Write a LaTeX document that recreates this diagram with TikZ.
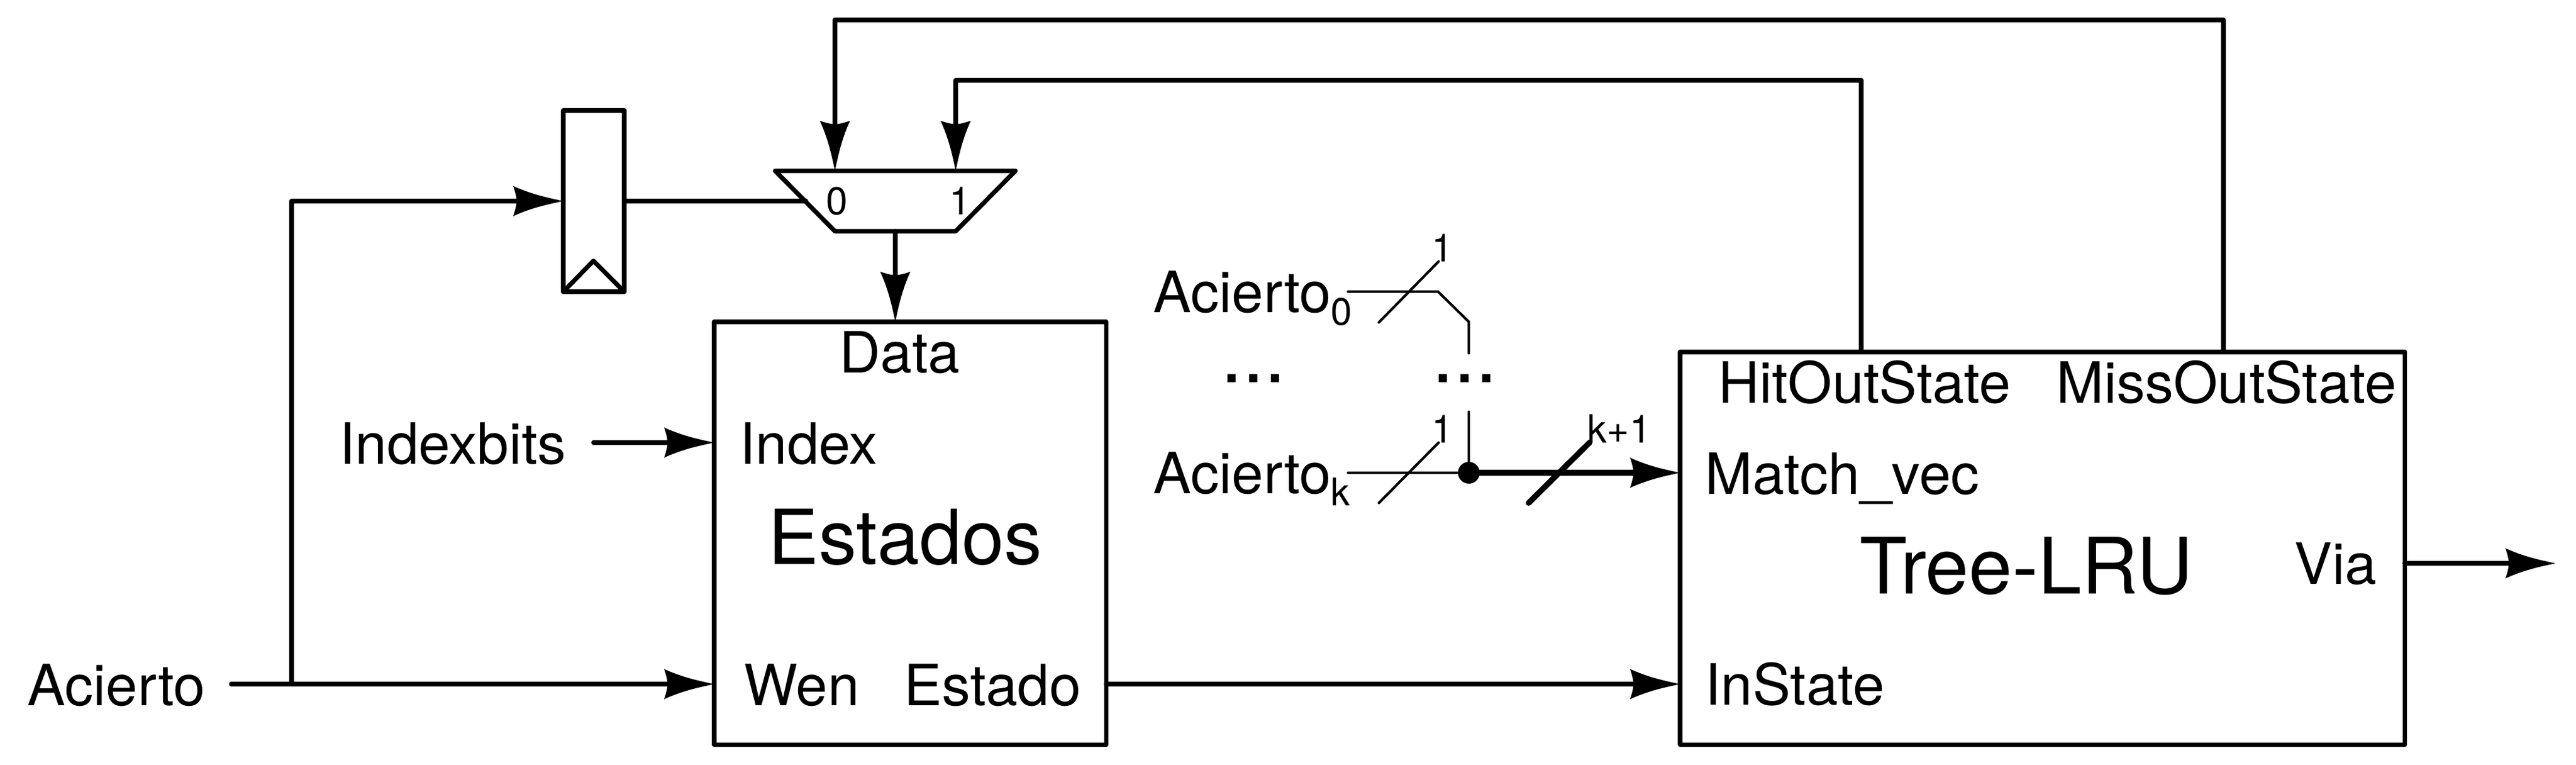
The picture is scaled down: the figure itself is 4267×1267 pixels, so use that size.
\documentclass[tikz,border=0pt]{standalone}
\usepackage{fontspec}
\setmainfont{TeX Gyre Heros}
\pgfarrowsdeclare{xtip}{xtip}{\pgfarrowsleftextend{-8.6pt}\pgfarrowsrightextend{15pt}}{%
  \pgfpathmoveto{\pgfpoint{15pt}{0pt}}%
  \pgfpathcurveto{\pgfpoint{7pt}{1.7pt}}{\pgfpoint{0pt}{3.2pt}}{\pgfpoint{-8.6pt}{7.1pt}}%
  \pgfpathcurveto{\pgfpoint{-7.4pt}{3.6pt}}{\pgfpoint{-7pt}{1.5pt}}{\pgfpoint{-7pt}{0pt}}%
  \pgfpathcurveto{\pgfpoint{-7pt}{-1.5pt}}{\pgfpoint{-7.4pt}{-3.6pt}}{\pgfpoint{-8.6pt}{-7.1pt}}%
  \pgfpathcurveto{\pgfpoint{0pt}{-3.2pt}}{\pgfpoint{7pt}{-1.7pt}}{\pgfpoint{15pt}{0pt}}%
  \pgfpathclose\pgfusepathqfill}
\newcommand{\subtxt}[1]{\raisebox{-5.7pt}{\fontsize{18pt}{20pt}\selectfont #1}}
\tikzset{
  wire/.style={line width=2.1pt,line join=round,line cap=round},
  thin wire/.style={line width=1.2pt,line join=round,line cap=round},
  bus wire/.style={line width=2.7pt,line join=round,line cap=round},
  arrowed/.style={wire,-xtip},
  block/.style={draw,line width=2.1pt,line join=round,inner sep=0pt,outer sep=0pt,anchor=north west,fill=none},
  lab/.style={inner sep=0pt,anchor=base west,font=\fontsize{26.8pt}{30pt}\selectfont},
  labsmall/.style={inner sep=0pt,anchor=base west,font=\fontsize{18.3pt}{20pt}\selectfont},
  labbig/.style={inner sep=0pt,anchor=base west,font=\fontsize{36.7pt}{40pt}\selectfont},
}
\begin{document}
\begin{tikzpicture}[x=0.01cm,y=-0.01cm]
\useasboundingbox (0,0) rectangle (4267,1267);
% blocks
\node[block,minimum width=6.49cm,minimum height=7cm] (est) at (1183,533) {};
\node[block,minimum width=12cm,minimum height=6.5cm] (lru) at (2783,583) {};
\node[block,minimum width=1.01cm,minimum height=3cm] (reg) at (933,183) {};
\draw[wire] (reg.south west) -- (983,432) -- (reg.south east);
\draw[wire] (1284,283) -- (1682,283) -- (1583,383) -- (1383,383) -- cycle;
\coordinate (mt0) at (1383,283);
\coordinate (mt1) at (1583,283);
\coordinate (mb) at (1483,383);
\coordinate (ml) at (1335,333);
\coordinate (ra) at (483,333);
\coordinate (rin) at (933,333);
\coordinate (rout) at (1034,333);
% labels
\node[lab] (l1) at (45,1168) {Acierto};
\node[lab] (l2) at (562,768) {Indexbits};
\node[lab] (l3) at (1390,617) {Data};
\node[lab] (l4) at (1225,768) {Index};
\node[labbig,font=\fontsize{35.7pt}{40pt}\selectfont] (l5) at (1272,934) {Estados};
\node[lab] (l6) at (1232,1168) {Wen};
\node[lab] (l7) at (1497,1168) {Estado};
\node[lab] (l8) at (1910,518) {Acierto\subtxt{0}};
\node[lab] (l9) at (1910,817) {Acierto\subtxt{k}};
\node[lab] (l10) at (2846,667) {HitOutState};
\node[lab] (l11) at (3406,667) {MissOutState};
\node[lab] (l12) at (2824,818) {Match\_vec};
\node[labbig] (l13) at (3080,983) {Tree-LRU};
\node[lab] (l14) at (3800,967) {Via};
\node[lab] (l15) at (2824,1167) {InState};
\node[labsmall] (d0) at (1368,356) {0};
\node[labsmall] (d1) at (1572,356) {1};
\node[labsmall] (o1) at (2371,433) {1};
\node[labsmall] (o2) at (2371,733) {1};
\node[labsmall] (o3) at (2629,733) {k+1};
\node[labbig] (e1) at (2022,633) {...};
\node[labbig] (e2) at (2372,633) {...};
% connectors
\coordinate (acs) at (383,1133);
\coordinate (acj) at (483,1133);
\coordinate (acw) at (1183,1133);
\draw[wire] (acs) -- (acj);
\draw[arrowed] (acj) -- (acw);
\draw[arrowed] (acj) -- (ra) -- (rin);
\draw[wire] (rout) -- (ml);
\draw[arrowed] (mb) -- (mb |- est.north);
\coordinate (hit) at (3083,583);
\coordinate (miss) at (3683,583);
\draw[arrowed] (hit) -- (3083,133) -- (1583,133) -- (mt1);
\draw[arrowed] (miss) -- (3683,33) -- (1383,33) -- (mt0);
\coordinate (ixs) at (983,733);
\coordinate (ixe) at (1183,733);
\coordinate (sts) at (1832,1133);
\coordinate (ste) at (2783,1133);
\coordinate (vis) at (3983,933);
\coordinate (vie) at (4233,933);
\draw[arrowed] (ixs) -- (ixe);
\draw[arrowed] (sts) -- (ste);
\draw[arrowed] (vis) -- (vie);
% bus
\coordinate (dot) at (2433,783);
\coordinate (mv) at (2783,783);
\draw[thin wire] (2233,483) -- (2382,483) -- (2433,533) -- (2433,585);
\draw[thin wire] (2284,534) -- (2383,433);
\draw[thin wire] (2233,783) -- (dot);
\draw[thin wire] (2433,682) -- (dot);
\draw[thin wire] (2284,833) -- (2383,733);
\fill (dot) circle (18);
\draw[bus wire,-xtip] (dot) -- (mv);
\draw[bus wire] (2532,833) -- (2633,733);
\end{tikzpicture}
\end{document}
